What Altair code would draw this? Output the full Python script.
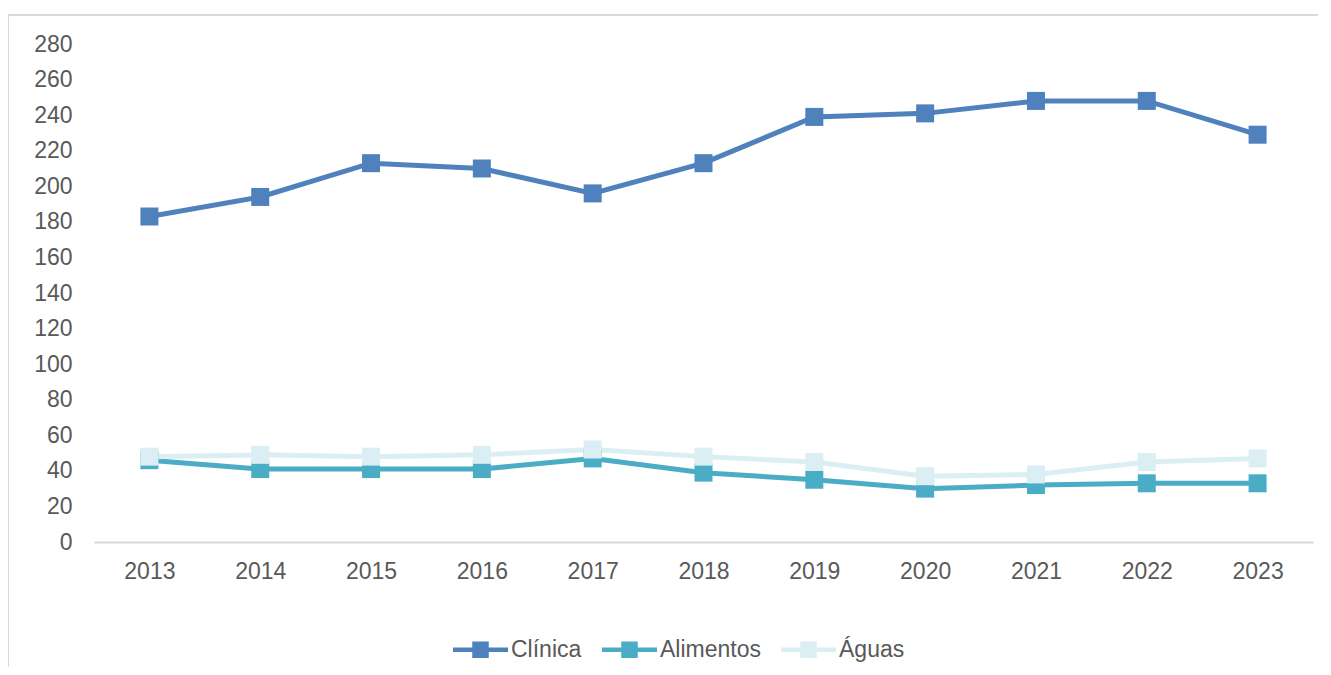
import altair as alt
import pandas as pd

years = ["2013", "2014", "2015", "2016", "2017", "2018", "2019", "2020", "2021", "2022", "2023"]
clinica = [183, 194, 213, 210, 196, 213, 239, 241, 248, 248, 229]
alimentos = [46, 41, 41, 41, 47, 39, 35, 30, 32, 33, 33]
aguas = [48, 49, 48, 49, 52, 48, 45, 37, 38, 45, 47]
series_names = ["Clínica", "Alimentos", "Águas"]
series_colors = ["#4F81BD", "#4BACC6", "#DAEEF3"]
y_ticks = list(range(0, 281, 20))

rows = []
for name, vals in zip(series_names, [clinica, alimentos, aguas]):
    for yr, v in zip(years, vals):
        rows.append({"Ano": yr, "Valor": v, "Serie": name})
df = pd.DataFrame(rows)

FONT = "Liberation Sans Narrow, Arial Narrow, Liberation Sans, Arial, sans-serif"
TXT = "#595959"

x_enc = alt.X("Ano:O", sort=years,
              scale=alt.Scale(type="point", padding=0.5),
              axis=alt.Axis(title=None, labelAngle=0, ticks=False, domain=True,
                            domainColor="#D9D9D9", domainWidth=2, labelPadding=18,
                            labelFontSize=23, labelColor=TXT, labelFont=FONT, grid=False))
y_enc = alt.Y("Valor:Q", scale=alt.Scale(domain=[0, 280], nice=False, zero=True),
              axis=alt.Axis(title=None, values=y_ticks, ticks=False, domain=False, grid=False,
                            labelPadding=22, labelFontSize=23, labelColor=TXT, labelFont=FONT))
color_scale = alt.Scale(domain=series_names, range=series_colors)

legend_path = ("M-1,-0.08 L1,-0.08 L1,0.08 L-1,0.08 Z "
               "M-0.3,-0.3 L0.3,-0.3 L0.3,0.3 L-0.3,0.3 Z")
legend = alt.Legend(title=None, orient="none", direction="horizontal",
                    legendX=359, legendY=578,
                    symbolType=legend_path, symbolSize=3025,
                    symbolStrokeWidth=0, symbolOpacity=1, labelFontSize=23,
                    labelColor=TXT, labelFont=FONT, labelOffset=3,
                    columnPadding=20, padding=0)
color_enc = alt.Color("Serie:N", scale=color_scale, sort=series_names, legend=legend)

border = alt.Chart(pd.DataFrame({"k": [0]})).mark_rect(
    fill=None, stroke="#D9D9D9", strokeWidth=2
).encode(x=alt.value(-86), x2=alt.value(1240), y=alt.value(-29), y2=alt.value(640))

lines = alt.Chart(df).mark_line(strokeWidth=5).encode(
    x=x_enc, y=y_enc, color=color_enc,
)
points = alt.Chart(df).mark_point(shape="square", filled=True, size=324, opacity=1).encode(
    x=x_enc, y=y_enc, color=color_enc,
)

layers = []
for name in series_names:
    layers.append(lines.transform_filter(alt.datum.Serie == name))
for name in series_names:
    layers.append(points.transform_filter(alt.datum.Serie == name))

chart = alt.layer(border, *layers).properties(
    width=1219, height=498,
    autosize=alt.AutoSizeParams(type="none"),
    padding={"left": 86, "top": 36, "right": 5, "bottom": 125},
    background="white",
).configure_view(stroke=None)

chart.save("out.html", embed_options={"renderer": "svg", "actions": False})
